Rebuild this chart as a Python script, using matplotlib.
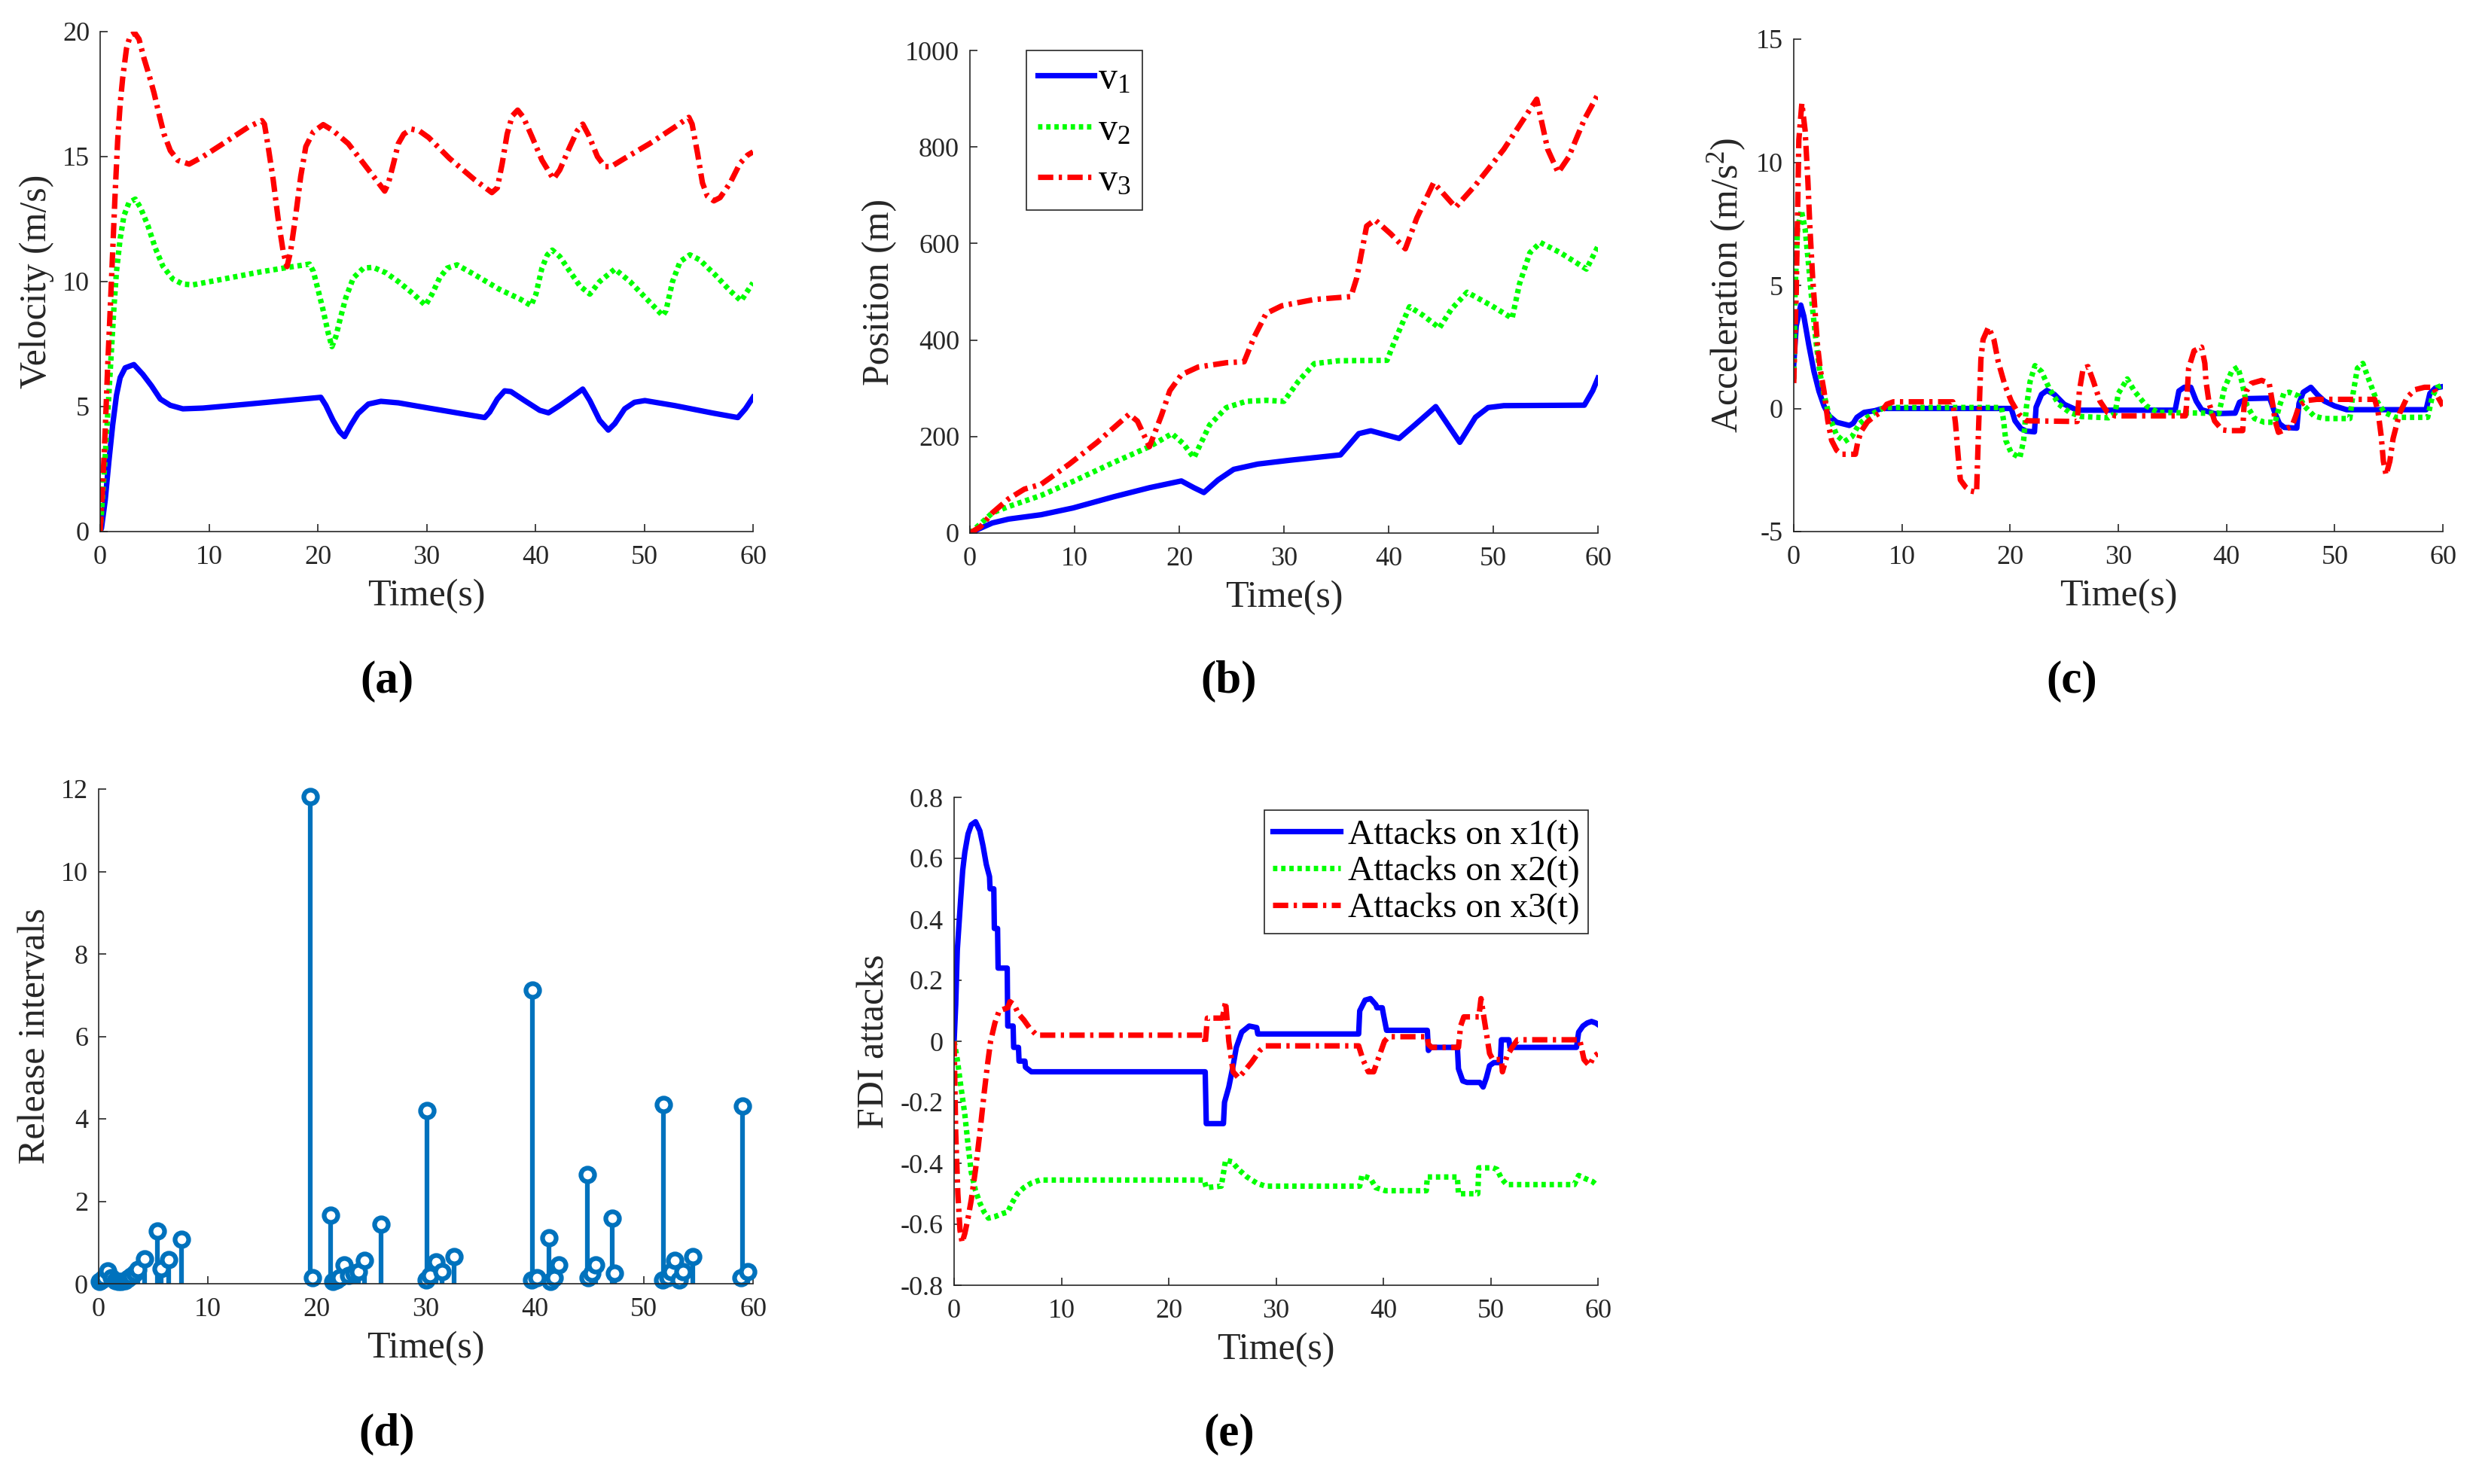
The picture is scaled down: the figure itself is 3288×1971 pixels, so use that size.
import matplotlib
matplotlib.use("Agg")
import matplotlib.pyplot as plt

plt.rcParams['font.family'] = ['Liberation Serif', 'DejaVu Serif']
plt.rcParams['mathtext.fontset'] = 'custom'
plt.rcParams['mathtext.rm'] = 'Liberation Serif'
plt.rcParams['mathtext.it'] = 'Liberation Serif:italic'
plt.rcParams['axes.unicode_minus'] = False

# ---------------- data ----------------
# (a) velocity
t_v1 = [0, 0.12, 0.46, 0.8, 1.15, 1.5, 1.84, 2.3, 3.1, 3.92, 4.72, 5.53, 6.45, 7.6, 9.45, 13.6, 20.28, 20.74, 21.4, 22.0, 22.46, 23.04, 23.7, 24.65, 25.8, 27.4, 30.2, 35.34, 35.8, 36.5, 37.17, 37.75, 39.0, 40.4, 41.2, 42.24, 43.6, 44.35, 45.0, 45.9, 46.7, 47.3, 48.2, 49.1, 50.06, 52.8, 56.3, 58.6, 59.3, 60]
v1 = [0, 0.13, 1.24, 2.8, 4.26, 5.45, 6.16, 6.55, 6.68, 6.29, 5.83, 5.3, 5.05, 4.91, 4.94, 5.1, 5.37, 5.05, 4.45, 4.0, 3.8, 4.26, 4.72, 5.1, 5.21, 5.15, 4.94, 4.56, 4.78, 5.3, 5.63, 5.6, 5.24, 4.85, 4.75, 5.04, 5.46, 5.7, 5.24, 4.45, 4.06, 4.32, 4.91, 5.17, 5.24, 5.04, 4.74, 4.56, 4.91, 5.37]
t_v2 = [0, 0.35, 0.69, 1.04, 1.27, 1.5, 1.84, 2.19, 2.65, 3.23, 3.69, 4.38, 5.07, 5.76, 6.68, 7.6, 8.53, 11.3, 14.75, 17.28, 19.24, 19.6, 20.05, 20.5, 20.97, 21.3, 21.66, 22.1, 22.58, 23.27, 24.2, 25.1, 26.27, 27.4, 28.8, 29.9, 30.5, 31.2, 31.9, 32.8, 34.4, 36.7, 38.6, 39.6, 40.05, 40.6, 41.1, 41.55, 42.24, 43.16, 44.1, 45.0, 45.9, 47.3, 48.7, 50.1, 51.7, 52.0, 52.6, 53.3, 54.2, 55.1, 56.5, 57.9, 58.9, 59.5, 60]
v2 = [0, 2.2, 4.65, 7.27, 8.97, 10.4, 11.72, 12.64, 13.16, 13.3, 12.97, 12.25, 11.34, 10.62, 10.1, 9.9, 9.87, 10.1, 10.39, 10.57, 10.7, 10.4, 9.63, 8.84, 7.92, 7.4, 7.8, 8.58, 9.36, 10.15, 10.54, 10.57, 10.35, 10.0, 9.5, 9.05, 9.5, 10.15, 10.54, 10.67, 10.28, 9.69, 9.3, 9.04, 9.5, 10.54, 11.07, 11.26, 11.0, 10.41, 9.82, 9.5, 10.0, 10.5, 10.0, 9.36, 8.64, 8.84, 10.0, 10.8, 11.07, 10.87, 10.28, 9.63, 9.23, 9.63, 9.95]
t_v3 = [0, 0.23, 0.46, 0.69, 0.92, 1.15, 1.38, 1.61, 1.84, 2.07, 2.42, 2.76, 3.18, 3.57, 4.03, 4.49, 4.95, 5.41, 5.87, 6.45, 7.14, 8.18, 9.45, 11.3, 13.6, 14.86, 15.1, 15.44, 15.9, 16.36, 16.82, 17.17, 17.5, 17.97, 18.43, 18.9, 19.6, 20.5, 21.4, 22.8, 24.2, 25.35, 26.15, 26.5, 26.96, 27.4, 27.9, 28.6, 29.3, 30.2, 32.1, 34.4, 36.0, 36.5, 36.95, 37.4, 37.87, 38.37, 38.9, 39.7, 40.6, 41.66, 42.24, 43.16, 43.85, 44.35, 44.9, 45.7, 46.38, 46.96, 48.2, 50.5, 52.8, 54.1, 54.4, 54.9, 55.35, 55.8, 56.4, 56.97, 57.9, 58.8, 59.5, 60]
v3 = [0, 1.77, 4.0, 6.6, 8.84, 11.2, 13.56, 15.65, 17.1, 18.14, 19.32, 19.84, 19.95, 19.7, 18.93, 18.27, 17.55, 16.7, 15.9, 15.24, 14.85, 14.7, 15.0, 15.52, 16.18, 16.44, 16.3, 15.4, 14.08, 12.5, 11.2, 10.6, 11.2, 12.64, 14.2, 15.4, 16.0, 16.28, 16.04, 15.52, 14.73, 14.08, 13.62, 13.95, 14.73, 15.52, 15.9, 16.1, 16.04, 15.76, 14.93, 14.08, 13.56, 13.75, 14.73, 15.9, 16.63, 16.86, 16.57, 15.78, 14.86, 14.1, 14.47, 15.39, 16.04, 16.3, 15.85, 15.0, 14.6, 14.6, 14.93, 15.52, 16.18, 16.57, 16.3, 15.13, 13.95, 13.42, 13.23, 13.36, 13.95, 14.73, 15.06, 15.19]

# (b) position
t_p1 = [0, 1.0, 2.15, 3.7, 6.8, 9.85, 13.7, 17.15, 20.2, 21.4, 22.35, 23.7, 25.2, 27.5, 30.6, 35.4, 36.2, 37.15, 38.3, 41.0, 42.5, 44.5, 46.8, 48.3, 49.5, 51.0, 58.7, 59.5, 60]
p1 = [0, 10, 21, 29, 38, 52, 75, 94, 108, 94, 84, 110, 132, 143, 151, 162, 182, 206, 212, 196, 224, 262, 188, 240, 260, 264, 265, 295, 321]
t_p2 = [0, 1.0, 2.15, 3.7, 6.8, 9.85, 13.7, 17.15, 19.3, 20.4, 21.4, 22.9, 24.5, 26.4, 28.3, 30.0, 31.4, 32.9, 35.2, 39.85, 40.6, 42.0, 43.3, 44.85, 46.0, 47.5, 49.85, 51.8, 52.5, 53.5, 54.5, 56.4, 58.9, 60]
p2 = [0, 19, 42, 55, 78, 107, 146, 179, 206, 185, 156, 224, 260, 273, 275, 273, 315, 351, 357, 358, 399, 469, 451, 425, 464, 499, 471, 445, 516, 581, 602, 581, 547, 594]
t_p3 = [0, 1.0, 2.15, 3.7, 5.2, 6.8, 9.5, 12.15, 15.2, 16.0, 17.15, 18.3, 19.1, 20.2, 21.8, 24.5, 26.2, 27.15, 28.3, 29.8, 32.9, 36.4, 36.96, 37.9, 38.7, 40.2, 41.6, 42.7, 44.3, 46.4, 48.3, 51.0, 54.15, 55.2, 56.2, 57.2, 58.7, 60]
p3 = [0, 13, 42, 71, 91, 101, 143, 188, 246, 232, 179, 244, 295, 328, 344, 353, 355, 406, 455, 471, 484, 490, 529, 636, 649, 620, 589, 653, 726, 675, 721, 795, 899, 795, 747, 779, 857, 909]
legend_b = ['v$_1$', 'v$_2$', 'v$_3$']

# (c) acceleration
t_a1 = [0, 0.23, 0.65, 0.93, 1.4, 1.87, 2.33, 2.8, 3.27, 3.97, 5.14, 5.5, 5.84, 6.5, 7.5, 8.2, 20.1, 20.45, 21.0, 21.5, 22.25, 22.4, 22.9, 23.4, 24.1, 25.0, 26.2, 35.25, 35.6, 36.1, 36.7, 37.2, 37.7, 38.9, 40.8, 41.2, 41.9, 44.0, 44.5, 44.9, 45.35, 46.5, 46.7, 47.1, 47.8, 48.4, 49.05, 50.0, 51.1, 58.45, 58.8, 59.3, 60]
a1 = [1.76, 3.35, 4.2, 3.75, 2.56, 1.5, 0.7, 0.1, -0.3, -0.56, -0.69, -0.6, -0.36, -0.16, -0.09, 0, 0, -0.5, -0.82, -0.92, -0.95, 0.05, 0.57, 0.73, 0.57, 0.17, -0.07, -0.07, 0.71, 0.86, 0.86, 0.3, -0.05, -0.21, -0.19, 0.25, 0.4, 0.42, -0.21, -0.62, -0.77, -0.8, 0.2, 0.66, 0.86, 0.56, 0.3, 0.1, -0.05, -0.05, 0.61, 0.83, 0.89]
t_a2 = [0, 0.12, 0.35, 0.7, 1.05, 1.4, 1.75, 2.1, 2.45, 2.8, 3.27, 3.97, 4.67, 5.37, 6.07, 6.8, 7.5, 8.4, 19.2, 19.4, 19.6, 20.1, 20.9, 21.25, 21.5, 21.85, 22.3, 22.9, 23.6, 24.5, 25.5, 26.6, 29.1, 29.7, 30.0, 30.83, 31.5, 32.6, 33.7, 39.3, 39.8, 40.5, 41.05, 41.4, 41.9, 42.6, 43.5, 44.5, 44.9, 45.3, 45.8, 46.7, 47.2, 48.1, 49.05, 51.4, 51.7, 52.1, 52.6, 53.2, 53.9, 54.6, 55.6, 58.6, 59.03, 59.5, 60]
a2 = [1.2, 4.7, 7.3, 8.05, 7.3, 5.7, 4.0, 2.56, 1.37, 0.57, -0.3, -1.09, -1.35, -1.15, -0.62, -0.36, -0.16, 0.04, 0.04, -0.5, -1.3, -1.8, -2.0, -1.3, 0.04, 1.1, 1.74, 1.5, 0.83, 0.17, -0.16, -0.33, -0.38, -0.2, 0.61, 1.2, 0.7, 0.1, -0.16, -0.2, 0.81, 1.53, 1.68, 1.12, 0.1, -0.41, -0.56, -0.56, 0.1, 0.61, 0.66, 0.5, 0.1, -0.31, -0.41, -0.41, 0.61, 1.63, 1.83, 1.12, 0.3, -0.16, -0.36, -0.36, 0.5, 0.86, 0.96]
t_a3 = [0, 0.23, 0.47, 0.75, 1.05, 1.3, 1.5, 1.75, 2.0, 2.2, 2.45, 2.8, 3.15, 3.5, 3.97, 4.4, 5.7, 5.9, 6.2, 6.8, 7.5, 8.05, 8.6, 9.2, 14.7, 14.95, 15.2, 15.4, 15.9, 16.35, 16.9, 17.1, 17.3, 17.5, 18.0, 18.5, 18.9, 19.5, 20.1, 20.8, 21.5, 26.2, 26.4, 26.75, 27.2, 27.7, 28.3, 29.0, 29.7, 36.2, 36.3, 36.5, 37.0, 37.7, 38.0, 38.1, 38.4, 38.9, 39.6, 40.2, 41.5, 41.62, 41.85, 42.3, 43.25, 43.95, 44.3, 44.5, 44.8, 45.35, 46.05, 46.4, 46.7, 47.4, 48.35, 53.7, 54.0, 54.3, 54.5, 54.75, 55.1, 55.4, 56.0, 56.7, 57.4, 58.3, 59.15, 59.5, 60]
a3 = [1.03, 4.7, 10.9, 12.4, 11.3, 9.3, 7.3, 5.3, 3.75, 2.56, 1.6, 0.7, -0.5, -1.3, -1.7, -1.86, -1.86, -1.4, -0.95, -0.55, -0.3, -0.15, 0.17, 0.27, 0.27, -0.6, -1.95, -2.9, -3.2, -3.35, -3.4, -0.6, 2.0, 2.8, 3.3, 2.8, 1.9, 0.97, 0.3, -0.23, -0.5, -0.53, 0.7, 1.63, 1.7, 1.1, 0.3, -0.16, -0.3, -0.3, 0.1, 1.63, 2.34, 2.49, 1.83, 1.12, 0.2, -0.51, -0.87, -0.9, -0.9, 0.1, 0.71, 1.02, 1.14, 1.02, 0.1, -0.51, -0.97, -0.87, -0.72, -0.31, 0.1, 0.32, 0.37, 0.37, -0.1, -1.12, -2.14, -2.7, -2.14, -1.22, -0.2, 0.45, 0.76, 0.86, 0.86, 0.5, 0.1]

# (d) release intervals
t_rel = [0.1, 0.3, 0.5, 0.8, 1.2, 1.5, 1.8, 2.1, 2.4, 2.7, 3.0, 3.3, 3.6, 4.2, 5.4, 5.7, 6.4, 7.6, 19.4, 19.6, 21.3, 21.5, 21.8, 22.1, 22.5, 22.9, 23.4, 23.8, 24.4, 25.9, 30.0, 30.1, 30.4, 30.9, 31.5, 32.6, 39.7, 39.8, 40.2, 41.3, 41.4, 41.8, 42.2, 44.8, 44.9, 45.2, 45.6, 47.1, 47.3, 51.7, 51.8, 52.2, 52.5, 52.8, 53.2, 53.6, 54.5, 58.9, 59.0, 59.5]
rel = [0.05, 0.1, 0.15, 0.31, 0.15, 0.08, 0.05, 0.05, 0.08, 0.12, 0.18, 0.25, 0.35, 0.61, 1.28, 0.36, 0.59, 1.08, 11.81, 0.15, 1.67, 0.05, 0.1, 0.15, 0.45, 0.2, 0.25, 0.3, 0.56, 1.45, 0.1, 4.2, 0.2, 0.53, 0.3, 0.65, 0.1, 7.13, 0.15, 1.11, 0.05, 0.15, 0.45, 2.64, 0.15, 0.25, 0.45, 1.58, 0.25, 0.1, 4.35, 0.15, 0.3, 0.56, 0.1, 0.3, 0.65, 0.15, 4.31, 0.3]

# (e) FDI attacks
t_e1 = [0, 0.15, 0.3, 0.45, 0.6, 0.8, 1.0, 1.3, 1.6, 2.0, 2.4, 2.7, 3.0, 3.3, 3.35, 3.7, 3.75, 4.05, 4.1, 4.95, 5.0, 5.5, 5.55, 6.0, 6.05, 6.6, 6.65, 7.2, 23.4, 23.5, 25.1, 25.2, 25.6, 26.0, 26.3, 26.8, 27.5, 28.2, 28.3, 37.7, 37.8, 38.3, 38.8, 39.3, 39.4, 39.9, 40.0, 40.3, 44.1, 44.2, 44.4, 46.9, 47.0, 47.4, 47.8, 49.0, 49.3, 49.6, 49.9, 50.3, 50.9, 51.0, 51.7, 51.8, 58.0, 58.2, 58.6, 59.0, 59.4, 59.8, 60]
e1 = [0, 0.12, 0.3, 0.38, 0.46, 0.56, 0.62, 0.68, 0.71, 0.72, 0.69, 0.64, 0.58, 0.54, 0.5, 0.5, 0.37, 0.37, 0.24, 0.24, 0.05, 0.05, -0.02, -0.02, -0.065, -0.065, -0.085, -0.1, -0.1, -0.27, -0.27, -0.2, -0.15, -0.08, -0.02, 0.03, 0.05, 0.045, 0.024, 0.024, 0.1, 0.135, 0.14, 0.12, 0.11, 0.11, 0.09, 0.036, 0.036, -0.03, -0.02, -0.02, -0.09, -0.13, -0.135, -0.135, -0.15, -0.12, -0.08, -0.07, -0.07, 0.005, 0.005, -0.02, -0.02, 0.03, 0.05, 0.06, 0.065, 0.06, 0.055]
t_e2 = [0, 0.3, 0.6, 1.0, 1.3, 1.6, 2.0, 2.4, 2.8, 3.2, 3.8, 4.5, 5.0, 5.4, 5.9, 6.5, 7.2, 8.0, 23.3, 23.5, 24.9, 25.3, 25.9, 26.5, 27.3, 28.2, 29.0, 37.8, 38.0, 38.8, 39.3, 40.2, 44.0, 44.1, 46.9, 47.0, 48.8, 48.9, 50.2, 50.6, 51.0, 51.5, 57.8, 58.2, 58.8, 59.5, 60]
e2 = [0, -0.06, -0.14, -0.24, -0.34, -0.43, -0.49, -0.53, -0.56, -0.58, -0.575, -0.565, -0.56, -0.53, -0.5, -0.48, -0.465, -0.455, -0.455, -0.48, -0.475, -0.39, -0.395, -0.42, -0.445, -0.465, -0.475, -0.475, -0.44, -0.45, -0.48, -0.49, -0.49, -0.445, -0.445, -0.5, -0.5, -0.415, -0.415, -0.42, -0.45, -0.47, -0.47, -0.44, -0.45, -0.46, -0.475]
t_e3 = [0, 0.15, 0.35, 0.55, 0.75, 1.0, 1.3, 1.6, 2.0, 2.4, 2.8, 3.1, 3.4, 3.8, 4.2, 5.0, 5.2, 5.6, 6.0, 6.5, 7.0, 7.7, 23.3, 23.4, 23.6, 25.0, 25.3, 25.6, 26.0, 26.5, 27.0, 27.7, 28.5, 29.0, 37.7, 38.1, 38.6, 39.1, 39.6, 40.1, 40.5, 44.1, 44.2, 44.5, 47.0, 47.2, 47.5, 48.9, 49.1, 49.5, 49.9, 50.2, 51.0, 51.1, 51.5, 52.0, 52.5, 58.3, 58.7, 59.2, 59.6, 60]
e3 = [0, -0.3, -0.5, -0.62, -0.66, -0.63, -0.58, -0.52, -0.42, -0.3, -0.17, -0.08, 0.0, 0.06, 0.1, 0.11, 0.13, 0.12, 0.09, 0.07, 0.045, 0.02, 0.02, -0.01, 0.076, 0.076, 0.13, 0.0, -0.1, -0.12, -0.1, -0.07, -0.03, -0.015, -0.015, -0.06, -0.1, -0.1, -0.05, 0.0, 0.015, 0.015, -0.01, -0.02, -0.02, 0.05, 0.08, 0.08, 0.14, 0.05, -0.04, -0.06, -0.06, -0.1, -0.05, -0.02, 0.005, 0.005, -0.06, -0.08, -0.05, -0.04]
legend_e = ['Attacks on x1(t)', 'Attacks on x2(t)', 'Attacks on x3(t)']

x_ticks = [0, 10, 20, 30, 40, 50, 60]
panel_labels = ['(a)', '(b)', '(c)', '(d)', '(e)']

# ---------------- style ----------------
BLUE, GREEN, RED = '#0000FF', '#00FF00', '#FF0000'
STEM = '#0072BD'
TXT = '#262626'
LW = 5.2
DOT = (0, (0.8, 0.7))
DASHDOT = (0, (2.8, 1.0, 0.6, 1.0))
TICK_FS = 26
LABEL_FS = 36

W, H = 3288, 1971
fig = plt.figure(figsize=(W / 100, H / 100), dpi=100)


def mk_axes(l, r, t, b):
    return fig.add_axes([l / W, 1 - b / H, (r - l) / W, (b - t) / H])


def style(ax, ylim, yticks, ylabel, xlabel='Time(s)'):
    ax.set_xlim(0, 60)
    ax.set_ylim(*ylim)
    ax.set_xticks(x_ticks)
    ax.set_yticks(yticks)
    for s in ['top', 'right']:
        ax.spines[s].set_visible(False)
    for s in ['left', 'bottom']:
        ax.spines[s].set_linewidth(1.2)
        ax.spines[s].set_color(TXT)
    ax.tick_params(direction='in', length=7, width=1.2, colors=TXT,
                   labelsize=TICK_FS)
    ax.tick_params(axis='x', pad=13)
    ax.tick_params(axis='y', pad=10)
    ax.set_xlabel(xlabel, fontsize=LABEL_FS, color=TXT, labelpad=8)
    ax.set_ylabel(ylabel, fontsize=LABEL_FS, color=TXT, labelpad=8)


# (a)
ax_a = mk_axes(133, 1000, 42, 706)
ax_a.plot(t_v1, v1, color=BLUE, lw=LW, ls='-', solid_joinstyle='round')
ax_a.plot(t_v2, v2, color=GREEN, lw=LW, ls=DOT)
ax_a.plot(t_v3, v3, color=RED, lw=LW, ls=DASHDOT)
style(ax_a, (0, 20), [0, 5, 10, 15, 20], 'Velocity (m/s)')

# (b)
ax_b = mk_axes(1288, 2122, 67, 708)
lb1, = ax_b.plot(t_p1, p1, color=BLUE, lw=LW, ls='-', solid_joinstyle='round')
lb2, = ax_b.plot(t_p2, p2, color=GREEN, lw=LW, ls=DOT)
lb3, = ax_b.plot(t_p3, p3, color=RED, lw=LW, ls=DASHDOT)
style(ax_b, (0, 1000), [0, 200, 400, 600, 800, 1000], 'Position (m)')
leg = ax_b.legend([lb1, lb2, lb3], legend_b, loc='upper left',
                  bbox_to_anchor=(0.09, 1.0), borderaxespad=0,
                  fontsize=36, labelspacing=0.42, handlelength=1.5,
                  handletextpad=0.1, borderpad=0.3, fancybox=False,
                  framealpha=1, edgecolor=TXT)
leg.get_frame().set_linewidth(1.2)

# (c)
ax_c = mk_axes(2382, 3244, 52, 706)
ax_c.plot(t_a1, a1, color=BLUE, lw=LW, ls='-', solid_joinstyle='round')
ax_c.plot(t_a2, a2, color=GREEN, lw=LW, ls=DOT)
ax_c.plot(t_a3, a3, color=RED, lw=LW, ls=DASHDOT)
style(ax_c, (-5, 15), [-5, 0, 5, 10, 15], 'Acceleration (m/s$^2$)')

# (d)
ax_d = mk_axes(131, 1000, 1048, 1705)
ml, sl, bl = ax_d.stem(t_rel, rel, basefmt=' ')
sl.set_color(STEM)
sl.set_linewidth(4.5)
ml.set_color(STEM)
ml.set_markerfacecolor('white')
ml.set_markeredgewidth(4.5)
ml.set_markersize(13)
ml.set_clip_on(False)
style(ax_d, (0, 12), [0, 2, 4, 6, 8, 10, 12], 'Release intervals')

# (e)
ax_e = mk_axes(1267, 2122, 1059, 1707)
le1, = ax_e.plot(t_e1, e1, color=BLUE, lw=LW, ls='-')
le2, = ax_e.plot(t_e2, e2, color=GREEN, lw=LW, ls=DOT)
le3, = ax_e.plot(t_e3, e3, color=RED, lw=LW, ls=DASHDOT)
style(ax_e, (-0.8, 0.8), [-0.8, -0.6, -0.4, -0.2, 0, 0.2, 0.4, 0.6, 0.8],
      'FDI attacks')
ax_e.set_yticklabels(['-0.8', '-0.6', '-0.4', '-0.2', '0', '0.2', '0.4', '0.6', '0.8'])
leg = ax_e.legend([le1, le2, le3], legend_e, loc='upper right',
                  bbox_to_anchor=(0.985, 0.974), borderaxespad=0,
                  fontsize=34, labelspacing=0.12, handlelength=1.9,
                  handletextpad=0.2, borderpad=0.25, fancybox=False,
                  framealpha=1, edgecolor=TXT)
leg.get_frame().set_linewidth(1.2)

# panel labels
pos = [(514, 905), (1632, 905), (2751, 905), (514, 1905), (1632, 1905)]
for lab, (px, py) in zip(panel_labels, pos):
    fig.text(px / W, 1 - py / H, lab, ha='center', va='center',
             fontsize=44, fontweight='bold', color='black')

fig.savefig('out.png', dpi=100)
